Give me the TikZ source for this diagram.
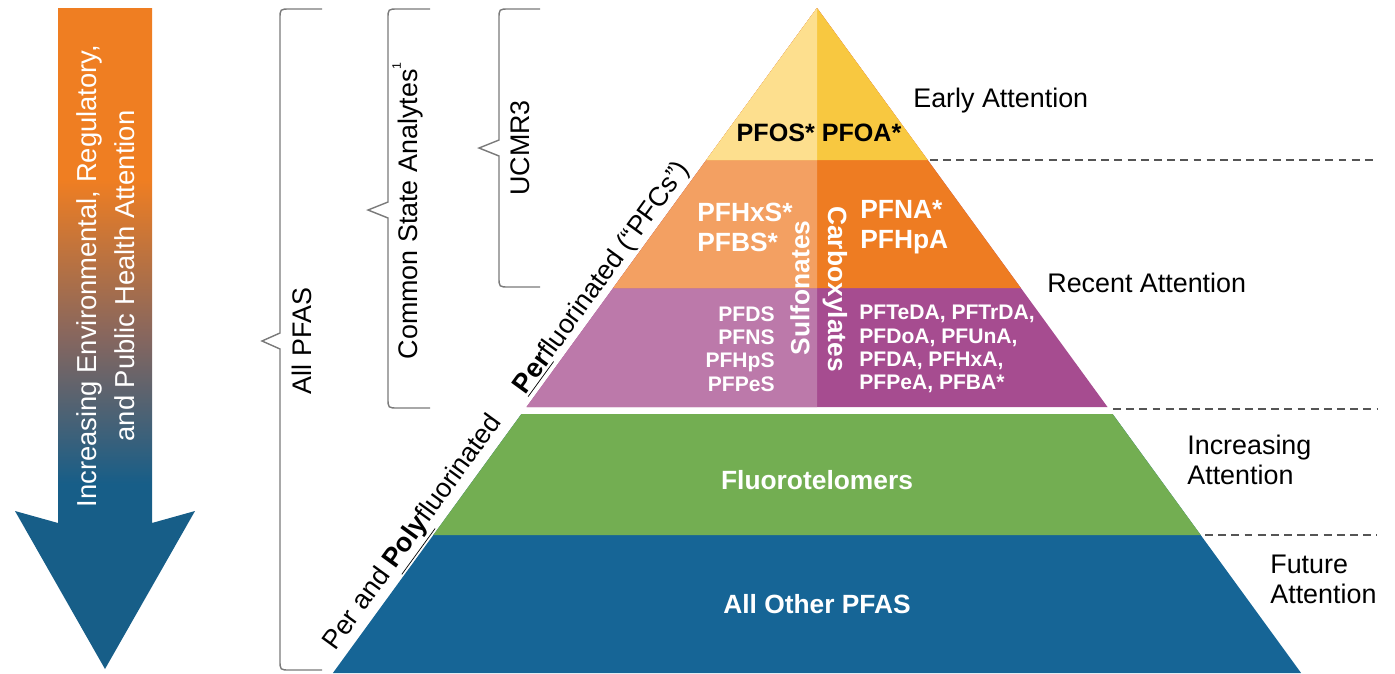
\documentclass[tikz,border=0pt]{standalone}
\usepackage{fontspec}
\setmainfont{Liberation Sans}
\usepackage{tikz}

\definecolor{yellowlt}{HTML}{FDDF8E}
\definecolor{yellowdk}{HTML}{F8C840}
\definecolor{orangelt}{HTML}{F3A062}
\definecolor{orangedk}{HTML}{EE7C22}
\definecolor{purplelt}{HTML}{BC79AA}
\definecolor{purpledk}{HTML}{A64C90}
\definecolor{pfasgreen}{HTML}{73AE52}
\definecolor{pfasblue}{HTML}{166596}
\definecolor{arroworange}{HTML}{EF7E22}
\definecolor{arrowmid}{HTML}{85665F}
\definecolor{arrowblue}{HTML}{175E88}
\definecolor{bracegrey}{HTML}{7A7A7A}
\definecolor{dashgrey}{HTML}{555555}

\pgfdeclareverticalshading{attentionshade}{100bp}{color(0bp)=(arrowblue); color(39bp)=(arrowblue); color(50bp)=(arrowmid); color(62bp)=(arroworange); color(100bp)=(arroworange)}

\begin{document}
\begin{tikzpicture}[x=0.02cm, y=-0.02cm,
  sidelabel/.style={font=\fontsize{15.3}{17}\selectfont, inner sep=0pt, align=left, anchor=west},
  tierlabel/.style={font=\bfseries\fontsize{15}{17}\selectfont, text=white, inner sep=0pt},
  smalllabel/.style={font=\bfseries\fontsize{12}{13.2}\selectfont, text=white, inner sep=0pt},
  brace/.style={draw=bracegrey, line width=0.8pt},
  tierline/.style={draw=dashgrey, line width=0.7pt, dash pattern=on 4.5pt off 3pt}]

\useasboundingbox (0,0) rectangle (1395,673);

% arrow on the left
\shade[shading=attentionshade] (58,8) -- (152,8) -- (152,523) -- (195,511) -- (105,669) -- (15,511) -- (58,523) -- cycle;
\node[font=\fontsize{15.6}{21.5}\selectfont, text=white, align=center, rotate=90, inner sep=0pt] (attnote) at (106,276) {Increasing Environmental, Regulatory,\\and Public Health Attention};

% upper pyramid
\fill[purpledk] (817,8) -- (526.5,407) -- (1107.5,407) -- cycle;
\fill[purplelt] (817,8) -- (526.5,407) -- (817,407) -- cycle;
\fill[orangedk] (817,8) -- (613.2,288) -- (1020.8,288) -- cycle;
\fill[orangelt] (817,8) -- (613.2,288) -- (817,288) -- cycle;
\fill[yellowdk] (817,8) -- (706.3,160) -- (927.7,160) -- cycle;
\fill[yellowlt] (817,8) -- (706.3,160) -- (817,160) -- cycle;

% lower pyramid
\fill[pfasblue] (521.4,414) -- (332.9,673) -- (1301.1,673) -- (1112.6,414) -- cycle;
\fill[pfasgreen] (521.4,414) -- (433.3,535) -- (1200.7,535) -- (1112.6,414) -- cycle;

% tier texts
\node[tierlabel, text=black, font=\bfseries\fontsize{14.3}{17}\selectfont] (pfosoa) at (819,133) {PFOS* PFOA*};
\node[tierlabel, align=left, anchor=west] (sulfo) at (697,227) {PFHxS*\\PFBS*};
\node[tierlabel, align=left, anchor=west] (carbo) at (860,227) {PFNA*\\PFHpA};
\node[smalllabel, align=right, anchor=east] (sulfp) at (775,349) {PFDS\\PFNS\\PFHpS\\PFPeS};
\node[smalllabel, align=left, anchor=west] (carbp) at (859,349) {PFTeDA, PFTrDA,\\PFDoA, PFUnA,\\PFDA, PFHxA,\\PFPeA, PFBA*};
\node[tierlabel, rotate=90] (sulfl) at (800,288) {Sulfonates};
\node[tierlabel, rotate=-90] (carbl) at (835,289) {Carboxylates};
\node[tierlabel] (fluoro) at (817,480) {Fluorotelomers};
\node[tierlabel] (otherpfas) at (817,604) {All Other PFAS};

% along the edge
\node[sidelabel, anchor=base, rotate=54] (perfl) at (608,282) {\underline{\textbf{Per}}fluorinated (“PFCs”)};
\node[sidelabel, anchor=base, rotate=54] (polyfl) at (419,537) {Per and \underline{\textbf{Poly}}fluorinated};

% attention levels
\draw[tierline] (930,160) -- (1377,160);
\draw[tierline] (1113,409) -- (1377,409);
\draw[tierline] (1205,535) -- (1377,535);
\node[sidelabel] (earlyatt) at (913,101) {Early Attention};
\node[sidelabel] (recentatt) at (1047,283) {Recent Attention};
\node[sidelabel] (incratt) at (1187,460) {Increasing\\Attention};
\node[sidelabel] (futatt) at (1270,579) {Future\\Attention};

% braces
\draw[brace] (322,9) -- (290,9) .. controls (280,9) .. (280,19) -- (280,333) -- (262,341) -- (280,349) -- (280,660) .. controls (280,670) .. (290,670) -- (322,670);
\node[sidelabel, anchor=center, rotate=90] (allpfas) at (302,341) {All PFAS};

\draw[brace] (430,9) -- (398,9) .. controls (388,9) .. (388,19) -- (388,202) -- (368,210) -- (388,218) -- (388,398) .. controls (388,408) .. (398,408) -- (430,408);
\node[sidelabel, anchor=center, rotate=90] (statean) at (408,211) {Common State Analytes\raisebox{1.2ex}{\fontsize{7}{7}\selectfont 1}};

\draw[brace] (540,9) -- (509,9) .. controls (499,9) .. (499,19) -- (499,140) -- (479,148) -- (499,156) -- (499,277) .. controls (499,287) .. (509,287) -- (540,287);
\node[sidelabel, anchor=center, rotate=90] (ucmr) at (520,148) {UCMR3};

\end{tikzpicture}
\end{document}
